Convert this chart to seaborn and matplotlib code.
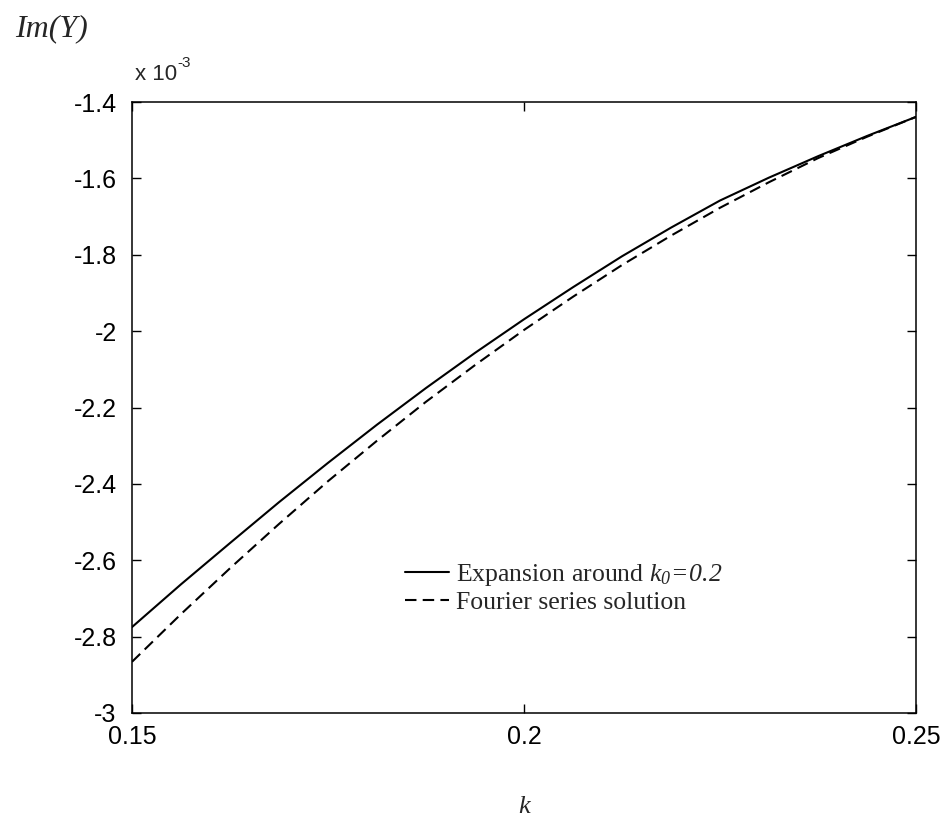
import numpy as np
import pandas as pd
import matplotlib
matplotlib.use("Agg")
import matplotlib.pyplot as plt
import seaborn as sns
from matplotlib.ticker import FuncFormatter, FixedLocator

# values, Im(Y) in units of 1e-3
k_vals = [0.15, 0.15625, 0.1625, 0.16875, 0.175, 0.18125, 0.1875, 0.19375, 0.2,
          0.20625, 0.2125, 0.21875, 0.225, 0.23125, 0.2375, 0.24375, 0.25]
im_expansion = [-2.775, -2.663, -2.555, -2.448, -2.345, -2.245, -2.149, -2.057, -1.969,
                -1.885, -1.804, -1.729, -1.658, -1.598, -1.542, -1.489, -1.439]
im_fourier = [-2.866, -2.741, -2.621, -2.505, -2.393, -2.287, -2.185, -2.089, -1.997,
              -1.910, -1.827, -1.750, -1.677, -1.610, -1.547, -1.491, -1.439]

x_ticks = [0.15, 0.2, 0.25]
y_ticks = [-3, -2.8, -2.6, -2.4, -2.2, -2, -1.8, -1.6, -1.4]

lbl_exp = r"Expansion around $k_{0}\!=\!0.2$"
lbl_fou = "Fourier series solution"

df = pd.DataFrame({
    "k": k_vals * 2,
    "im": im_expansion + im_fourier,
    "curve": [lbl_exp] * len(k_vals) + [lbl_fou] * len(k_vals),
})

sns.set_style("ticks")
plt.rcParams["font.family"] = ["Liberation Sans", "DejaVu Sans"]
plt.rcParams["axes.unicode_minus"] = False
# all math text in italic serif (the k0=0.2 part of the legend)
plt.rcParams["mathtext.fontset"] = "custom"
plt.rcParams["mathtext.rm"] = "Liberation Serif:italic"
plt.rcParams["mathtext.it"] = "Liberation Serif:italic"

fig = plt.figure(figsize=(9.5, 8.33), dpi=100)
ax = fig.add_axes([132 / 950, 1 - 713 / 833, 784 / 950, 611 / 833])

sns.lineplot(data=df, x="k", y="im", hue="curve", style="curve",
             palette=["black", "black"], dashes=[(None, None), (5.5, 3)],
             linewidth=1.5, ax=ax, legend=False)
line_solid, line_dash = ax.get_lines()[:2]
line_solid.set_linestyle("-")

ax.set_xlim(0.15, 0.25)
ax.set_ylim(-3, -1.4)
ax.xaxis.set_major_locator(FixedLocator(x_ticks))
ax.yaxis.set_major_locator(FixedLocator(y_ticks))
ax.xaxis.set_major_formatter(FuncFormatter(lambda v, p: "%g" % v))
ax.yaxis.set_major_formatter(FuncFormatter(lambda v, p: "%g" % v))
ax.tick_params(direction="in", length=6.5, width=1, top=True, right=True,
               labelsize=18, colors="black")
ax.tick_params(axis="x", pad=9)
ax.tick_params(axis="y", pad=11)
for s in ax.spines.values():
    s.set_linewidth(1.1)
    s.set_color("black")
ax.set_xlabel("")
ax.set_ylabel("")

leg = ax.legend([line_solid, line_dash], [lbl_exp, lbl_fou],
                loc="upper left", bbox_to_anchor=(0.348, 0.247),
                frameon=False, borderpad=0, borderaxespad=0,
                handlelength=1.7, handletextpad=0.3, labelspacing=0.1,
                prop={"family": "Liberation Serif", "size": 18.5})

fig.text(15 / 950, 1 - 29 / 833, "Im(Y)", family="Liberation Serif",
         style="italic", fontsize=23, va="center", ha="left")
fig.text(135 / 950, 1 - 75 / 833, "x 10", fontsize=16, va="center", ha="left")
fig.text(177 / 950, 1 - 63 / 833, "-3", fontsize=11, va="center", ha="left")
fig.text(524 / 950, 1 - 807 / 833, "k", family="Liberation Serif",
         style="italic", fontsize=19, va="center", ha="center")

fig.savefig("out.png", dpi=100, facecolor="white")
